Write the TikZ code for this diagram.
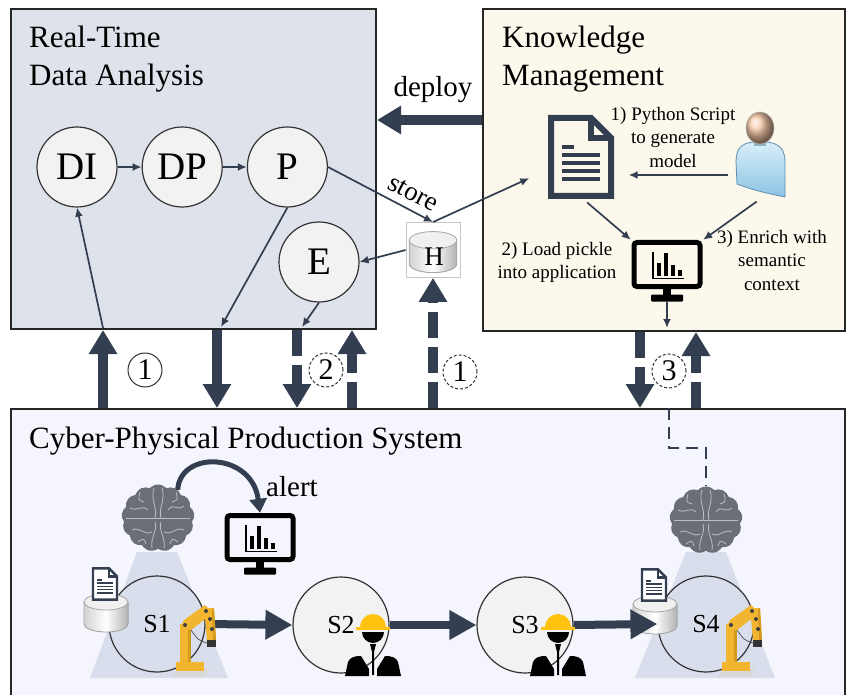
\documentclass[tikz,border=0pt]{standalone}
\usepackage{fontspec}
\setmainfont{Liberation Serif}
\usetikzlibrary{arrows.meta, positioning, shapes.symbols, calc}

\definecolor{navy}{HTML}{333F50}
\definecolor{rtabg}{HTML}{DEE3EB}
\definecolor{kmbg}{HTML}{FDF8EC}
\definecolor{cppsbg}{HTML}{F5F6FD}
\definecolor{nodegray}{HTML}{F2F2F2}
\definecolor{spot}{HTML}{D9DEEC}
\definecolor{braingray}{HTML}{6C6E77}
\definecolor{robot}{HTML}{F1B530}
\definecolor{robotdark}{HTML}{D39A1E}
\definecolor{hat}{HTML}{FFC20E}
\definecolor{skin}{HTML}{F4C7A5}
\definecolor{bodytop}{HTML}{D8EEF9}
\definecolor{bodybottom}{HTML}{8CC3E3}
\definecolor{bodyedge}{HTML}{5E8FB0}

\tikzset{
  % document sheet: outline width, line width, fill
  pics/docicon/.style n args={3}{code={
    \filldraw[navy, fill=#3, line width=#1, line join=miter]
      (-30,-39) -- (10,-39) -- (30,-19) -- (30,39) -- (-30,39) -- cycle;
    \draw[navy, line width=#1, line join=miter] (10,-39) -- (10,-19) -- (30,-19);
    \draw[navy, line width=#2] (-19,-10) -- (-7,-10);
    \foreach \ly in {-2,6,14,22} \draw[navy, line width=#2] (-19,\ly) -- (19,\ly);
  }},
  % screen with bar chart
  pics/monitor/.style={code={
    \draw[line width=5pt, rounded corners=3pt] (-33,-22) rectangle (33,22);
    \fill (-4,24) rectangle (4,32);
    \fill[rounded corners=1pt] (-16,30) rectangle (16,37);
    \draw[line width=1.6pt] (-14,-13) -- (-14,14) -- (17,14);
    \fill (-10,11) rectangle (-6,-2);
    \fill (-3,11) rectangle (1,-12);
    \fill (4,11) rectangle (8,0);
    \fill (11,11) rectangle (15,5);
  }},
  % storage cylinder
  pics/disk/.style={code={
    \fill[left color=gray!35, right color=gray!60, middle color=white]
      (-22,-10) -- (-22,12) arc[start angle=180, end angle=0, x radius=22, y radius=8] -- (22,-10) -- cycle;
    \draw[gray!70, line width=0.8pt]
      (-22,-10) -- (-22,12) arc[start angle=180, end angle=0, x radius=22, y radius=8] -- (22,-10);
    \filldraw[fill=gray!12, draw=gray!70, line width=0.8pt] (0,-10) ellipse[x radius=22, y radius=8];
  }},
  % brain folds
  pics/folds/.style={code={
    \begin{scope}[draw=braingray!45!white, line width=0.8pt]
      \draw (-32,0) -- (32,0);
      \draw (-4,-30) .. controls (-8,-18) and (0,-10) .. (-3,0);
      \draw (4,-30) .. controls (8,-18) and (0,-10) .. (3,0);
      \draw (-28,-10) .. controls (-20,-6) and (-16,-14) .. (-10,-8);
      \draw (26,-12) .. controls (18,-6) and (16,-16) .. (10,-8);
      \draw (-26,12) .. controls (-18,8) and (-14,18) .. (-6,14);
      \draw (26,12) .. controls (18,8) and (14,18) .. (6,14);
      \draw (-6,30) .. controls (-8,20) and (0,12) .. (-3,4);
      \draw (6,30) .. controls (8,20) and (0,12) .. (3,4);
      \draw (-18,-26) .. controls (-20,-18) .. (-14,-16);
      \draw (18,-26) .. controls (20,-18) .. (14,-16);
      \draw (-20,24) .. controls (-14,20) .. (-12,26);
      \draw (20,24) .. controls (14,20) .. (12,26);
    \end{scope}
  }},
  % industrial robot arm
  pics/robotarm/.style={code={
    \fill[gray!30] (-19,7) -- (13,7) -- (17,-2) -- (-15,-2) -- cycle;
    \fill[robot] (-16,1) rectangle (12,-8);
    \fill[robot] (-12,-8) rectangle (-1,-46);
    \fill[robotdark] (-4,-8) rectangle (-1,-46);
    \fill[robot] (-12,-42) -- (-8,-50) -- (13,-65) -- (21,-57) -- (-1,-40) -- cycle;
    \fill[robot] (12,-62) -- (22,-62) -- (24,-30) -- (15,-30) -- cycle;
    \fill[robotdark] (20,-60) -- (22,-62) -- (24,-30) -- (21,-30) -- cycle;
    \fill[black!80] (15,-30) rectangle (24,-23);
    \draw[black!70, line width=0.7pt] (-1,-40) .. controls (6,-30) .. (15,-27);
    \foreach \p in {(-7,-45),(14,-59),(18,-51),(20,-41)} \fill[black!75] \p circle[radius=2];
  }},
  % worker with hard hat
  pics/worker/.style={code={
    \fill[hat] (-13,0) arc[start angle=180, end angle=360, radius=13] -- cycle;
    \fill[hat] (-17,0) rectangle (17,3);
    \fill[black] (-11,5) arc[start angle=180, end angle=0, radius=11] -- cycle;
    \fill[black] (-3,17) -- (3,17) -- (1,25) -- (1,48) -- (-1,48) -- (-1,25) -- cycle;
    \fill[black] (-28,49) -- (-25,35) .. controls (-23,30) and (-18,29) .. (-12,29) -- (-4,42) -- (-4,49) -- cycle;
    \fill[black] (28,49) -- (25,35) .. controls (23,30) and (18,29) .. (12,29) -- (4,42) -- (4,49) -- cycle;
  }},
  % engineer
  pics/person/.style={code={
    \shadedraw[top color=bodytop, bottom color=bodybottom, draw=bodyedge, line width=0.8pt]
      (-6,14) .. controls (-20,15) and (-24,22) .. (-24,34) -- (-23,56)
      .. controls (-8,62) and (10,66) .. (25,69) -- (25,34)
      .. controls (25,22) and (20,15) .. (6,14) -- cycle;
    \fill[bodyedge!70] (-6,12) rectangle (6,18);
    \shadedraw[ball color=skin, draw=gray!60, line width=0.6pt] (0,0) ellipse[x radius=14, y radius=16];
  }},
}

\begin{document}
\begin{tikzpicture}[x=1pt, y=-1pt,
    node distance=24pt,
    panel/.style={draw=black!85, line width=2pt, anchor=north west, inner sep=0pt},
    paneltitle/.style={anchor=north west, align=left, inner sep=0pt, font=\fontsize{31}{38}\selectfont},
    stage/.style={circle, draw=black!80, line width=1.2pt, fill=nodegray, minimum size=80pt, inner sep=0pt, font=\fontsize{39}{39}\selectfont},
    station/.style={circle, draw=black!80, line width=1.2pt, fill=nodegray, minimum size=96pt, inner sep=0pt, font=\fontsize{26}{26}\selectfont},
    note/.style={anchor=north, align=center, inner sep=0pt, font=\fontsize{19}{23.5}\selectfont},
    label/.style={inner sep=0pt, font=\fontsize{29}{29}\selectfont},
    numtag/.style={circle, draw=black!80, line width=1pt, minimum size=34pt, inner sep=0pt, font=\fontsize{30}{30}\selectfont},
    dnumtag/.style={numtag, dash pattern=on 3pt off 2pt},
    iconbox/.style={inner sep=0pt},
    brain/.style={cloud, cloud puffs=13, cloud puff arc=95, aspect=1.1, fill=braingray, minimum width=73pt, minimum height=67pt, inner sep=0pt},
    flow/.style={draw=navy, line width=1.7pt, -{Latex[length=9pt,width=8pt]}},
    bigarrow/.style={draw=navy, line width=10pt, -{Triangle[length=24pt,width=27pt]}},
    dbigarrow/.style={bigarrow, dash pattern=on 26pt off 9pt},
    hbigarrow/.style={draw=navy, line width=8pt, -{Triangle[length=27pt,width=28pt]}}
]
\useasboundingbox (0,0) rectangle (846,695);
\fill[white] (0,0) rectangle (846,695);

% Panels
\node[panel, fill=rtabg, minimum width=365pt, minimum height=320pt] (rta) at (10,8) {};
\node[panel, fill=kmbg, minimum width=362pt, minimum height=322pt] (km) at (482,8) {};
\node[panel, fill=cppsbg, minimum width=834pt, minimum height=300pt] (cpps) at (10,408) {};

\node[paneltitle] (rtatitle) at (29,26) {Real-Time\\Data Analysis};
\node[paneltitle] (kmtitle) at (502,26) {Knowledge\\Management};
\node[paneltitle, anchor=base west] (cppstitle) at (29,448) {Cyber-Physical Production System};

% Real-time analysis pipeline
\node[stage] (DI) at (77,167) {DI};
\node[stage, right=of DI] (DP) {DP};
\node[stage, right=of DP] (P) {P};
\node[stage] (E) at (319,262) {E};

\coordinate (diin) at (103,328);
\coordinate (pout) at (221,327);
\coordinate (eout) at (302,327);
\coordinate (kmout) at (667,328);

\draw[flow] (DI) -- (DP);
\draw[flow] (DP) -- (P);
\draw[flow] (diin) -- (DI.south);
\draw[flow] (P.south) -- (pout);
\draw[flow] (E.south) -- (eout);

% History store
\node[draw=gray!45, fill=white, line width=0.8pt, minimum width=54pt, minimum height=55pt, inner sep=0pt] (hist) at (433,250) {};
\pic[scale=1.08] at (433,251) {disk};
\node[inner sep=0pt, font=\fontsize{27}{27}\selectfont] (histlbl) at (434,257) {H};

\draw[flow] (P.east) -- node[pos=0.74, above=4pt, sloped, font=\fontsize{27}{27}\selectfont] {store} (hist.north);
\draw[flow] (hist.west) -- (E.east);

% Knowledge management
\node[iconbox, minimum width=63pt, minimum height=80pt] (script) at (581,157) {};
\pic at (script.center) {docicon={6pt}{4pt}{kmbg}};
\node[iconbox, minimum width=52pt, minimum height=88pt] (user) at (760,155) {};
\pic at (760,128) {person};
\node[iconbox, minimum width=72pt, minimum height=62pt] (kmscreen) at (667,271) {};
\pic at ([yshift=6.5pt]kmscreen.center) {monitor};

\node[note] (step1) at (673,107) {1) Python Script\\to generate\\model};
\node[note] (step2) at (557,242) {2) Load pickle\\into application};
\node[note] (step3) at (772,230) {3) Enrich with\\semantic\\context};

\draw[flow, shorten >=22pt] (hist.north) -- ($(script.west)+(0,12)$);
\draw[flow, shorten <=6pt] ([yshift=-20pt]user.west) -- ([xshift=16pt, yshift=-18pt]script.east);
\draw[flow, shorten <=8pt] (script.south) -- (kmscreen.north west);
\draw[flow, shorten <=4pt] (user.south) -- (kmscreen.north east);
\draw[flow] (kmscreen.south) -- (kmout);

% Deploy
\draw[bigarrow] (km.west |- 0,120) -- (rta.east |- 0,120);
\node[label, anchor=base] (deploy) at (433,97) {deploy};

% Exchanges with the production system
\draw[bigarrow] (103,0 |- cpps.north) -- (103,0 |- rta.south);
\draw[bigarrow] (217,0 |- rta.south) -- (217,0 |- cpps.north);
\draw[dbigarrow] (297,0 |- rta.south) -- (297,0 |- cpps.north);
\draw[dbigarrow] (352,0 |- cpps.north) -- (352,0 |- rta.south);
\draw[dbigarrow] (433,0 |- cpps.north) -- (hist.south);
\draw[dbigarrow] (640,0 |- km.south) -- (640,0 |- cpps.north);
\draw[dbigarrow] (696,0 |- cpps.north) -- (696,0 |- km.south);

\node[numtag] (tag1) at (145,370) {1};
\node[dnumtag] (tag2) at (326,370) {2};
\node[dnumtag] (tag1b) at (460,372) {1};
\node[dnumtag] (tag3) at (669,371) {3};

% Production line
\fill[spot] (137,552) -- (177,552) -- (228,678) -- (90,678) -- cycle;
\fill[spot] (686,552) -- (726,552) -- (775,678) -- (635,678) -- cycle;

\node[station, fill=spot] (S1) at (157,624) {S1};
\node[station] (S2) at (341,625) {S2};
\node[station] (S3) at (525,625) {S3};
\node[station, fill=spot] (S4) at (706,624) {S4};

\pic at (106,612) {disk};
\pic[scale=0.4] at (105,584) {docicon={2.4pt}{1.5pt}{white}};
\pic at (655,614) {disk};
\pic[scale=0.4] at (654,585) {docicon={2.4pt}{1.5pt}{white}};

\draw[hbigarrow] (S1.east) -- (S2.west);
\draw[hbigarrow] (S2.east) -- (S3.west);
\draw[hbigarrow] (S3.east) -- (S4.west);

\pic at (192,670) {robotarm};
\pic at (738,670) {robotarm};
\pic at (373,627) {worker};
\pic at (558,627) {worker};

\node[brain] (brainL) at (158,518) {};
\pic at (brainL.center) {folds};
\node[brain] (brainR) at (706,520) {};
\pic at (brainR.center) {folds};

\draw[navy, line width=1.8pt, dash pattern=on 12pt off 7pt] (669,0 |- cpps.north) -- (669,448) -| (brainR.north);

% Local alert
\node[iconbox, minimum width=72pt, minimum height=62pt] (alertmon) at (260,544) {};
\pic at ([yshift=6.5pt]alertmon.center) {monitor};
\draw[navy, line width=5pt, -{Triangle[length=14pt,width=17pt]}] (brainL.55) .. controls (180,450) and (252,452) .. (alertmon.north);
\node[label, anchor=base west] (alert) at (266,496) {alert};

\end{tikzpicture}
\end{document}
